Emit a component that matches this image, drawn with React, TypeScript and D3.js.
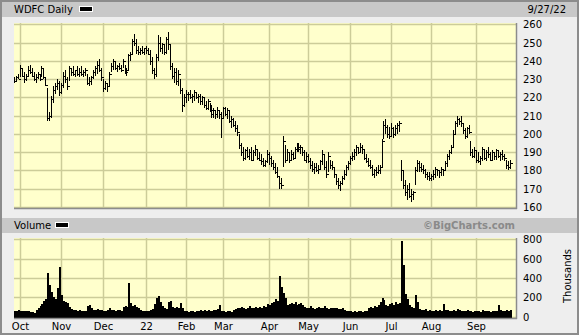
import React from "react";
import * as d3 from "d3";

const highs = [
  231,232,233,238,236,234,233,237,238,236,
  234,233,234,233,237,236,231,225,212,221,
  226,228,230,229,228,234,235,231,237,236,
  237,235,237,236,237,235,236,233,231,232,
  235,237,240,241,236,230,229,228,234,239,
  241,240,238,239,238,241,238,236,244,245,
  252,255,252,248,247,248,247,248,247,246,
  242,236,244,254,253,250,249,253,256,249,
  239,236,236,235,230,225,222,224,223,224,
  222,224,223,222,222,221,220,218,219,217,
  216,214,213,215,213,212,215,215,214,213,
  210,209,207,205,200,195,193,192,193,192,
  193,191,194,192,190,189,187,186,191,190,
  188,186,184,182,177,176,199,194,192,190,
  191,190,193,195,195,194,193,191,190,189,
  187,185,184,184,183,186,191,189,185,190,
  186,185,182,178,176,174,177,180,183,185,
  188,190,192,194,193,195,194,192,189,187,
  186,183,181,182,183,183,197,207,208,205,
  204,206,204,205,206,207,186,180,175,172,
  173,170,169,182,186,185,184,183,181,179,
  179,178,180,182,181,180,182,181,185,189,
  191,194,202,207,210,209,210,206,203,204,
  205,196,192,193,191,190,188,193,192,191,
  193,190,191,190,192,191,190,191,189,186,
  185,186,186,
];

const lows = [
  228,229,230,231,231,228,229,231,233,231,
  229,228,230,229,231,230,226,207,207,209,
  217,222,224,221,222,225,228,224,229,232,
  232,231,232,231,232,231,232,227,226,227,
  230,232,233,234,229,223,224,223,226,234,
  235,235,234,235,234,236,233,232,235,240,
  243,248,244,243,243,244,243,244,243,238,
  233,230,231,240,245,244,243,244,246,235,
  230,228,227,226,222,212,215,217,218,219,
  217,218,219,217,216,216,214,213,213,212,
  209,209,208,209,208,198,208,210,208,206,
  203,204,201,199,192,188,185,186,187,186,
  185,186,188,186,185,183,182,182,184,183,
  182,180,178,176,170,170,182,184,185,184,
  185,186,187,190,190,189,188,185,184,184,
  181,179,178,179,178,181,183,180,176,179,
  181,180,176,172,170,169,172,175,177,180,
  183,185,186,188,189,190,189,186,184,182,
  181,177,176,177,178,178,182,197,200,198,
  197,199,198,199,200,201,174,170,166,164,
  165,163,164,172,179,179,179,178,176,175,
  174,174,175,176,177,176,177,177,180,182,
  186,189,193,200,204,205,204,200,197,198,
  200,188,187,187,184,184,183,185,186,185,
  187,185,185,186,186,187,185,186,185,181,
  180,181,182,
];

const closes = [
  229,231,230,236,232,230,232,235,234,232,
  230,231,233,230,236,231,227,209,210,219,
  224,226,228,223,227,232,230,226,236,234,
  233,235,233,234,233,234,235,228,229,231,
  234,236,238,235,231,225,228,226,233,237,
  240,236,237,236,235,240,234,235,243,244,
  251,250,246,245,246,245,247,246,244,240,
  235,233,242,250,247,249,245,252,249,237,
  232,234,229,233,224,216,220,222,222,220,
  221,223,220,221,218,220,216,214,218,213,
  211,213,211,213,211,209,214,211,213,207,
  208,205,203,201,194,190,187,191,188,190,
  186,190,192,187,186,185,183,185,189,187,
  184,182,179,177,173,172,196,186,190,186,
  189,187,192,193,192,193,190,186,188,185,
  183,181,182,180,181,185,189,182,178,188,
  183,182,178,174,172,173,176,178,182,184,
  187,188,190,193,190,193,192,187,185,183,
  182,178,180,179,180,182,196,205,204,200,
  199,203,200,203,205,206,180,172,168,170,
  166,167,168,180,184,182,181,180,178,177,
  176,177,178,181,180,179,181,180,184,188,
  190,193,200,206,208,207,206,202,199,203,
  201,190,188,191,186,185,187,192,187,190,
  189,186,190,188,191,188,189,188,187,183,
  182,184,185,
];

// thousands of shares
const volumes = [
  60,55,65,60,55,60,58,55,50,50,
  40,70,90,110,130,160,180,448,330,260,
  200,180,300,517,220,160,150,140,100,80,
  70,65,60,65,60,55,55,110,120,90,
  70,65,80,70,65,60,60,65,90,70,
  65,60,70,65,60,100,110,105,352,140,
  110,120,100,90,70,60,55,60,55,65,
  80,130,190,218,150,110,90,80,150,160,
  100,95,105,90,145,90,60,55,50,55,
  60,50,55,60,65,60,70,60,65,55,
  60,70,65,75,120,60,55,50,55,60,
  50,70,80,90,85,100,95,80,90,110,
  85,95,100,90,105,95,110,100,130,120,
  140,150,180,160,420,310,250,190,120,130,
  140,130,150,125,135,145,120,100,90,95,
  110,85,80,90,100,95,85,110,90,80,
  85,95,90,85,80,75,90,70,60,55,
  55,50,55,50,60,55,50,55,60,90,
  100,95,110,100,120,150,190,170,120,110,
  130,140,120,155,130,140,786,530,230,180,
  120,100,90,225,150,80,70,65,75,60,
  70,60,55,65,60,70,55,130,70,65,
  60,55,65,60,80,70,60,55,60,65,
  55,60,50,55,60,55,50,65,60,55,
  60,50,55,60,55,120,70,60,55,65,
  60,70,50,
];

const startDate = "2021-09-27";
const endDate = "2022-09-27";
const holidays = [
  "2021-11-25","2021-12-24","2022-01-17","2022-02-21","2022-04-15",
  "2022-05-30","2022-06-20","2022-07-04","2022-09-05",
];
const monthLabels = ["Oct","Nov","Dec","22","Feb","Mar","Apr","May","Jun","Jul","Aug","Sep"];
const priceTicks = [260,250,240,230,220,210,200,190,180,170,160];
const volTicks = [800,600,400,200,0];

const fmt = d3.timeFormat("%Y-%m-%d");
const tradingDays: Date[] = d3.timeDay
  .range(new Date(startDate + "T12:00:00"), new Date(endDate + "T13:00:00"))
  .filter((d) => d.getDay() !== 0 && d.getDay() !== 6 && !holidays.includes(fmt(d)));

// first trading day of each month after the first
const monthStarts: number[] = [];
tradingDays.forEach((d, i) => {
  if (i > 0 && d.getMonth() !== tradingDays[i - 1].getMonth()) monthStarts.push(i);
});

const W = 579, H = 335;
const PL = 14, PR = 516;
const PT = 23, PB = 208;
const VT = 238, VB = 318;

const n = Math.min(highs.length, lows.length, closes.length, volumes.length, tradingDays.length);
const x = d3.scaleLinear().domain([0, 252]).range([13.8, 512]);
const yP = d3.scaleLinear().domain([160, 260]).range([207, 24.4]);
const yV = d3.scaleLinear().domain([0, 800]).range([316.7, 239.3]);
const px = (i: number) => Math.round(x(i)) + 0.5;

const grid = "#cccc99";
const font = "'DejaVu Sans', Verdana, sans-serif";

export default function App() {
  const idx = d3.range(n);
  return (
    <>
      <style>{`body{margin:0}`}</style>
      <svg width={W} height={H} style={{ display: "block" }} fontFamily={font} fontSize={10}>
        <rect x={0} y={0} width={W} height={H} fill="#eeeeee" />
        <rect x={0} y={0} width={W} height={17} fill="#c8c8c8" />
        <rect x={0} y={218} width={W} height={15} fill="#c8c8c8" />
        <rect x={1} y={1} width={W - 2} height={H - 2} fill="none" stroke="#8c8c8c" strokeWidth={2} />

        {/* header */}
        <text x={14} y={13} fill="#000">WDFC Daily</text>
        <rect x={79.5} y={6.5} width={13} height={5} fill="#000" stroke="#fff" strokeWidth={1} />
        <text x={566} y={13} textAnchor="end" fill="#000">9/27/22</text>

        {/* price panel */}
        <rect x={PL} y={PT} width={PR - PL} height={PB - PT} fill="#ffffcc" />
        {priceTicks.map((t) => {
          const yy = Math.round(yP(t)) + 0.5;
          return yy > PT && yy < PB ? (
            <line key={"pg" + t} x1={PL} x2={PR} y1={yy} y2={yy} stroke={grid} strokeWidth={1.5} />
          ) : null;
        })}
        {monthStarts.map((m) => (
          <line key={"pm" + m} x1={px(m)} x2={px(m)} y1={PT} y2={PB} stroke={grid} strokeWidth={1.5} />
        ))}
        <line x1={PR + 0.5} x2={PR + 0.5} y1={PT} y2={PB + 1} stroke="#8c8c8c" strokeWidth={1.5} />
        <line x1={PL} x2={PR + 1} y1={PB + 0.5} y2={PB + 0.5} stroke="#8c8c8c" strokeWidth={1.5} />
        <g stroke="#000" strokeWidth={1} shapeRendering="crispEdges">
          {idx.map((i) => (
            <g key={"b" + i}>
              <line x1={px(i)} x2={px(i)} y1={yP(highs[i])} y2={yP(lows[i])} />
              <line x1={px(i)} x2={px(i) + 2} y1={Math.round(yP(closes[i])) + 0.5} y2={Math.round(yP(closes[i])) + 0.5} />
            </g>
          ))}
        </g>
        {priceTicks.map((t) => (
          <text key={"pt" + t} x={523} y={yP(t) + 4} fill="#000">{t}</text>
        ))}

        {/* volume panel */}
        <text x={14} y={229} fill="#000">Volume</text>
        <rect x={55.5} y={222.5} width={13} height={5} fill="#000" stroke="#fff" strokeWidth={1} />
        <text x={515} y={229} textAnchor="end" fill="#8a8a8a" fontWeight="bold">©BigCharts.com</text>
        <rect x={PL} y={VT} width={PR - PL} height={VB - VT} fill="#ffffcc" />
        {volTicks.map((t) => {
          const yy = Math.round(yV(t)) + 0.5;
          return yy > VT && yy < VB ? (
            <line key={"vg" + t} x1={PL} x2={PR} y1={yy} y2={yy} stroke={grid} strokeWidth={1.5} />
          ) : null;
        })}
        {monthStarts.map((m) => (
          <line key={"vm" + m} x1={px(m)} x2={px(m)} y1={VT} y2={VB} stroke={grid} strokeWidth={1.5} />
        ))}
        <g fill="#000" shapeRendering="crispEdges">
          {idx.map((i) => (
            <rect key={"v" + i} x={Math.round(x(i))} y={yV(volumes[i])} width={2} height={VB - yV(volumes[i])} />
          ))}
        </g>
        <line x1={PR + 0.5} x2={PR + 0.5} y1={VT} y2={VB + 1} stroke="#8c8c8c" strokeWidth={1.5} />
        <line x1={PL} x2={PR + 1} y1={VB + 0.5} y2={VB + 0.5} stroke="#8c8c8c" strokeWidth={1.5} />
        {volTicks.map((t) => (
          <text key={"vt" + t} x={523} y={yV(t) + 4} fill="#000">{t}</text>
        ))}
        <text transform="translate(571,276) rotate(-90)" textAnchor="middle" fill="#000">Thousands</text>

        {/* month labels */}
        {monthStarts.map((m, k) => (
          <text key={"ml" + m} x={px(m)} y={330} textAnchor="middle" fill="#000">{monthLabels[k]}</text>
        ))}
      </svg>
    </>
  );
}
